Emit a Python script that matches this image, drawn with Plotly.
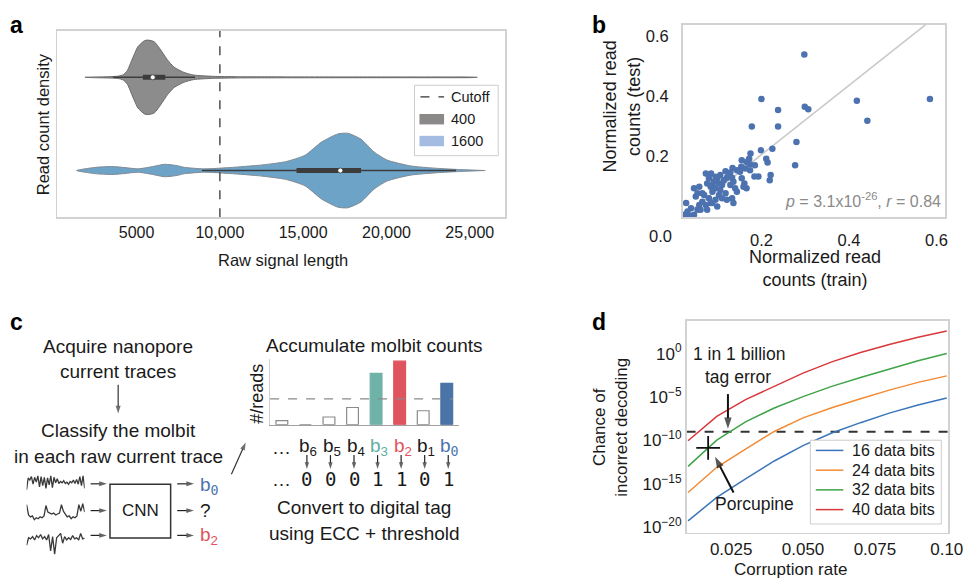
import numpy as np
import plotly.graph_objects as go

W, H = 976, 585
FONT = "Liberation Sans, Arial, Helvetica, sans-serif"
MONO = "DejaVu Sans Mono, monospace"
INK = "#1a1a1a"

# ---------------- Panel a: violin densities ----------------
GROUPS = ["400", "1600"]
A_GRAY_X = [1900, 2600, 3400, 3900, 4200, 4450, 4680, 4880, 5080, 5470, 5670, 6060, 6450,
            6850, 7250, 7840, 8430, 9600, 11000, 14000, 18000, 22000, 25000, 25450]
A_GRAY_D = [0, 0.4, 0.7, 1.2, 2.7, 7, 16, 24, 31, 37, 37.7, 36, 27.7,
            17.7, 10.3, 5, 2.3, 1.0, 0.6, 0.45, 0.4, 0.35, 0.3, 0]
A_BLUE_X = [1400, 2120, 2710, 3600, 4300, 5080, 5960, 6680, 7440, 7850, 9030, 10570, 12540,
            13940, 15120, 16100, 17080, 17670, 18470, 19250, 20030, 21440, 22990, 24390, 25930]
A_BLUE_D = [0, 2.3, 3.5, 4, 3, 1.7, 4, 6.3, 5, 3.3, 1.7, 3, 5.7,
            9, 15.7, 29, 37.3, 38, 32, 19, 10.7, 4.7, 2.3, 1, 0]
A_Q1 = [5380, 14600]
A_MED = [5970, 17230]
A_Q3 = [6720, 18475]
A_WLO = [3600, 8920]
A_WHI = [8510, 24170]
A_POS = [1, 0]
CUTOFF = 10000
A_TICKS = [5000, 10000, 15000, 20000, 25000]
A_TICKTEXT = ["5000", "10,000", "15,000", "20,000", "25,000"]

# ---------------- Panel b: scatter ----------------
B_TRAIN = [0.298, 0.200, 0.238, 0.299, 0.307, 0.178, 0.238, 0.280, 0.277, 0.225, 0.199, 0.175,
           0.172, 0.166, 0.174, 0.185, 0.211, 0.214, 0.193, 0.184, 0.221, 0.219, 0.155, 0.154,
           0.144, 0.134, 0.129, 0.125, 0.118, 0.121, 0.133, 0.136, 0.140, 0.144, 0.155, 0.161,
           0.166, 0.159, 0.106, 0.099, 0.091, 0.103, 0.110, 0.088, 0.084, 0.076, 0.073, 0.085,
           0.080, 0.095, 0.088, 0.103, 0.118, 0.133, 0.136, 0.121, 0.110, 0.095, 0.080, 0.069,
           0.058, 0.046, 0.050, 0.065, 0.058, 0.073, 0.084, 0.054, 0.039, 0.031, 0.028, 0.024,
           0.035, 0.046, 0.043, 0.061, 0.076, 0.099, 0.088, 0.065, 0.054, 0.106, 0.114, 0.129,
           0.151, 0.163, 0.174, 0.095, 0.418, 0.442, 0.585]
B_TEST = [0.540, 0.391, 0.354, 0.365, 0.357, 0.299, 0.299, 0.247, 0.169, 0.224, 0.219, 0.208,
          0.191, 0.180, 0.172, 0.169, 0.191, 0.178, 0.131, 0.131, 0.136, 0.119, 0.186, 0.164,
          0.152, 0.160, 0.145, 0.136, 0.149, 0.127, 0.127, 0.114, 0.092, 0.080, 0.125, 0.108,
          0.092, 0.097, 0.136, 0.125, 0.114, 0.108, 0.103, 0.103, 0.097, 0.108, 0.141, 0.141,
          0.125, 0.092, 0.080, 0.069, 0.075, 0.058, 0.042, 0.053, 0.058, 0.053, 0.058, 0.069,
          0.097, 0.092, 0.064, 0.047, 0.036, 0.036, 0.042, 0.020, 0.025, 0.014, 0.042, 0.003,
          0.000, 0.003, 0.000, 0.020, 0.020, 0.031, 0.042, 0.075, 0.075, 0.086, 0.119, 0.103,
          0.147, 0.158, 0.152, 0.130, 0.385, 0.318, 0.391]
FIT_SLOPE = 1.162
FIT_INTERCEPT = -0.028
B_XRANGE = [0.02, 0.62]
B_YRANGE = [-0.005, 0.64]
B_TICKS = [0.2, 0.4, 0.6]

# ---------------- Panel c: molbit counts ----------------
BIT_LABELS = ["…", "b6", "b5", "b4", "b3", "b2", "b1", "b0"]
BIT_COUNTS = [4, 0, 7.7, 17.3, 51.7, 64, 14, 41.7]
BIT_THRESHOLD = 26
BIT_COLORS = ["white", "white", "white", "white", "#6fb3a8", "#e0545d", "white", "#4a74a8"]
BIT_TEXT_COLORS = [INK, INK, INK, INK, "#5fae9f", "#e0545d", INK, "#4a74b0"]
TRACE_1 = [0.0, 0.85, 0.7, 0.95, 0.4, 0.9, 0.55, 1.0, 0.2, 0.95, 0.3, 0.9, 0.1, 0.85, 0.35, 1.0,
           0.15, 0.9, 0.5, 0.8, 0.45, 0.6, 0.5, 0.65, 0.45, 0.55, 0.4, 0.6, 0.5, 0.7, 0.45, 0.75,
           0.4, 0.95, 0.3, 1.0, 0.1]
TRACE_2 = [0.95, 0.4, 0.3, 0.35, 0.15, 0.25, 0.2, 0.3, 0.25, 0.35, 0.9, 0.55, 0.5, 0.45, 0.5,
           0.4, 0.45, 0.5, 0.95, 0.6, 0.45, 0.3, 0.35, 0.2, 0.3, 0.25, 0.35, 0.95, 0.6, 1.0, 0.55]
TRACE_3 = [0.45, 0.8, 0.75, 0.85, 0.7, 0.9, 0.8, 0.95, 0.75, 0.85, 0.7, 0.95, 0.2, 0.85, 0.05,
           0.8, 0.9, 1.0, 0.55, 0.85, 0.7, 0.8, 0.72, 0.9, 0.75, 0.8, 0.7, 1.0, 0.75, 0.78]

# ---------------- Panel d: decoding error ----------------
CORRUPTION = [0.01, 0.02, 0.03, 0.04, 0.05, 0.06, 0.07, 0.08, 0.09, 0.10]
D_NAMES = ["16 data bits", "24 data bits", "32 data bits", "40 data bits"]
LOG10_P_16 = [-19.25, -16.56, -14.42, -12.36, -10.6, -9.14, -7.95, -6.85, -5.91, -5.11]
LOG10_P_24 = [-15.99, -13.09, -10.99, -8.96, -7.40, -6.24, -5.20, -4.20, -3.31, -2.56]
LOG10_P_32 = [-12.98, -9.96, -7.86, -6.26, -4.95, -3.77, -2.75, -1.75, -0.81, 0.02]
LOG10_P_40 = [-10.03, -7.23, -5.29, -3.80, -2.24, -0.95, 0.12, 1.06, 1.88, 2.61]
D_COLORS = ["#3b75b9", "#f28a35", "#3ea447", "#d8383c"]
THRESH_P = 1e-9
PORCUPINE_RATE = 0.017
PORCUPINE_LOG10_P = -10.85
D_XRANGE = [0.0095, 0.1005]
D_YRANGE = [-20.62, 3.81]
D_XTICKS = [0.025, 0.050, 0.075, 0.100]
D_XTICKTEXT = ["0.025", "0.050", "0.075", "0.10"]
D_YTICKS_EXP = [-20, -15, -10, -5, 0]

fig = go.Figure()


def P(x, y):
    return x / W, 1 - y / H


def text(x, y, s, size=19, color=INK, family=FONT, xanchor="center", angle=0, **kw):
    X, Y = P(x, y)
    fig.add_annotation(x=X, y=Y, xref="paper", yref="paper", text=s, showarrow=False,
                       font=dict(size=size, color=color, family=family), xanchor=xanchor,
                       yanchor="middle", textangle=angle, **kw)


def arrow(xs, ys, xt, yt, color="#333333", width=1.2, head=8):
    # arrow drawn on a full-page overlay axis measured in page pixels
    fig.add_trace(go.Scatter(x=[xs, xt], y=[ys, yt], mode="lines+markers",
                             line=dict(color=color, width=width),
                             marker=dict(symbol=["circle", "arrow"], size=[0, head], color=color,
                                         angleref="previous", line=dict(width=0)),
                             showlegend=False, hoverinfo="skip", xaxis="x6", yaxis="y6"))


def rect(x0, y0, x1, y1, **kw):
    a, b = P(x0, y0)
    c, d = P(x1, y1)
    fig.add_shape(type="rect", xref="paper", yref="paper", x0=a, x1=c, y0=d, y1=b, **kw)


def hline(x0, x1, y, **kw):
    a, b = P(x0, y)
    c, _ = P(x1, y)
    fig.add_shape(type="line", xref="paper", yref="paper", x0=a, x1=c, y0=b, y1=b, **kw)


# ---------------- panel a traces ----------------
HALF = 0.4
for xs, ds, pos, fc, lc in [(A_GRAY_X, A_GRAY_D, A_POS[0], "#8c8c8c", "#6a6a6a"),
                            (A_BLUE_X, A_BLUE_D, A_POS[1], "#6ea3c8", "#7f8a93")]:
    m = max(ds)
    up = [pos + HALF * d / m for d in ds]
    lo = [pos - HALF * d / m for d in ds]
    fig.add_trace(go.Scatter(x=xs + xs[::-1], y=up + lo[::-1], fill="toself", fillcolor=fc,
                             mode="lines", line=dict(color=lc, width=1, shape="spline", smoothing=0.6),
                             showlegend=False, hoverinfo="skip", xaxis="x", yaxis="y"))
for i in range(2):
    p = A_POS[i]
    fig.add_trace(go.Scatter(x=[A_WLO[i], A_WHI[i]], y=[p, p], mode="lines",
                             line=dict(color="#3c3c3c", width=1.5), showlegend=False, xaxis="x", yaxis="y"))
    fig.add_trace(go.Scatter(x=[A_Q1[i], A_Q3[i]], y=[p, p], mode="lines",
                             line=dict(color="#3c3c3c", width=5), showlegend=False, xaxis="x", yaxis="y"))
    fig.add_trace(go.Scatter(x=[A_MED[i]], y=[p], mode="markers",
                             marker=dict(color="white", size=5, line=dict(color="#3c3c3c", width=0.8)),
                             showlegend=False, xaxis="x", yaxis="y"))
fig.add_trace(go.Scatter(x=[CUTOFF, CUTOFF], y=[-0.5, 1.5], mode="lines", name="Cutoff",
                         line=dict(color="#333333", width=1.3, dash="dash"), xaxis="x", yaxis="y",
                         showlegend=False))

# ---------------- panel b traces ----------------
fig.add_trace(go.Scatter(x=B_XRANGE, y=[FIT_INTERCEPT + FIT_SLOPE * v for v in B_XRANGE], mode="lines",
                         line=dict(color="#c9c9c9", width=1.6), showlegend=False, xaxis="x2", yaxis="y2"))
fig.add_trace(go.Scatter(x=B_TRAIN, y=B_TEST, mode="markers",
                         marker=dict(color="#4c72b0", size=6.5), showlegend=False, xaxis="x2", yaxis="y2"))

# ---------------- panel c traces ----------------
fig.add_trace(go.Bar(x=BIT_LABELS, y=BIT_COUNTS, width=0.5,
                     marker=dict(color=BIT_COLORS,
                                 line=dict(color=["#8a8a8a" if c == "white" else c for c in BIT_COLORS],
                                           width=1.2)),
                     showlegend=False, xaxis="x3", yaxis="y3"))
ROW_BASE = [-16, -49, -82]
ROW_AMP = [14, 19, 22]
for tr, base, amp in zip([TRACE_1, TRACE_2, TRACE_3], ROW_BASE, ROW_AMP):
    fig.add_trace(go.Scatter(x=np.linspace(0, 1, len(tr)), y=[base + amp * v for v in tr], mode="lines",
                             line=dict(color="#3a3a3a", width=1.3), showlegend=False,
                             xaxis="x5", yaxis="y5", hoverinfo="skip"))

# ---------------- panel d traces ----------------
fig.add_trace(go.Scatter(x=D_XRANGE, y=[THRESH_P, THRESH_P], mode="lines",
                         line=dict(color="#333333", width=2, dash="dash"), showlegend=False,
                         xaxis="x4", yaxis="y4"))
for name, vals, col in zip(D_NAMES, [LOG10_P_16, LOG10_P_24, LOG10_P_32, LOG10_P_40], D_COLORS):
    fig.add_trace(go.Scatter(x=CORRUPTION, y=[10 ** v for v in vals], mode="lines", name=name,
                             line=dict(color=col, width=1.5), xaxis="x4", yaxis="y4", showlegend=False))
fig.add_trace(go.Scatter(x=[PORCUPINE_RATE], y=[10 ** PORCUPINE_LOG10_P], mode="markers",
                         marker=dict(symbol="cross-thin", size=17, line=dict(color="#111111", width=1.8)),
                         showlegend=False, xaxis="x4", yaxis="y4"))

# ---------------- axes ----------------
FRAME = dict(showline=True, mirror=True, linecolor="#d2d2d2", linewidth=1.6, showgrid=False,
             zeroline=False)
TICKF = dict(size=16, color=INK, family=FONT)
BAR_X0, BAR_X1 = 274.3, 465.7
fig.update_layout(
    xaxis=dict(domain=[58 / W, 513 / W], range=[230, 27120], tickvals=A_TICKS, ticktext=A_TICKTEXT,
               tickfont=TICKF, anchor="y", ticks="", **FRAME),
    yaxis=dict(domain=[1 - 219 / H, 1 - 31 / H], range=[-0.5, 1.5], showticklabels=False, anchor="x",
               ticks="", **FRAME),
    xaxis2=dict(domain=[693.3 / W, 960 / W], range=B_XRANGE, tickvals=B_TICKS,
                ticktext=["0.2", "0.4", "0.6"], tickfont=dict(size=16.5, color=INK, family=FONT),
                ticks="outside", ticklen=7, tickcolor="rgba(0,0,0,0)", anchor="y2", **FRAME),
    yaxis2=dict(domain=[1 - 219 / H, 1 - 25 / H], range=B_YRANGE, tickvals=B_TICKS,
                ticktext=["0.2", "0.4", "0.6"], tickfont=dict(size=16.5, color=INK, family=FONT),
                ticks="outside", ticklen=9, tickcolor="rgba(0,0,0,0)", anchor="x2", **FRAME),
    xaxis3=dict(domain=[BAR_X0 / W, BAR_X1 / W], range=[-0.5, 7.5], type="category", showticklabels=False,
                showline=True, linecolor="#a0a0a0", linewidth=1.5, showgrid=False, zeroline=False,
                ticks="", anchor="y3"),
    yaxis3=dict(domain=[1 - 428.3 / H, 1 - 361.7 / H], range=[0, 66.6], showticklabels=False,
                showline=True, linecolor="#d0d0d0", linewidth=1.5, showgrid=False, zeroline=False,
                ticks="", anchor="x3"),
    xaxis4=dict(domain=[697.3 / W, 963 / W], range=D_XRANGE, tickvals=D_XTICKS,
                ticktext=D_XTICKTEXT, tickfont=dict(size=17, color=INK, family=FONT),
                ticklabeloverflow="allow", ticks="", anchor="y4", **FRAME),
    yaxis4=dict(domain=[1 - 537.3 / H, 1 - 323.3 / H], type="log", range=D_YRANGE,
                tickvals=[10.0 ** e for e in D_YTICKS_EXP],
                ticktext=["10<sup>\u2212%d</sup>" % (-e) if e < 0 else "10<sup>0</sup>" for e in D_YTICKS_EXP],
                tickfont=dict(size=17, color=INK, family=FONT), ticks="", anchor="x4", **FRAME),
    xaxis5=dict(domain=[27 / W, 86 / W], range=[0, 1], visible=False, anchor="y5"),
    yaxis5=dict(domain=[1 - 562 / H, 1 - 478 / H], range=[-84, 0], visible=False, anchor="x5"),
    xaxis6=dict(domain=[0, 1], range=[0, W], visible=False, anchor="y6", fixedrange=True),
    yaxis6=dict(domain=[0, 1], range=[H, 0], visible=False, anchor="x6", fixedrange=True),
)

# threshold in bar panel
fig.add_shape(type="line", xref="x3 domain", yref="y3", x0=0, x1=0.97, y0=BIT_THRESHOLD, y1=BIT_THRESHOLD,
              line=dict(color="#8a8a8a", width=1.2, dash="dash"))
# CNN box
rect(111.7, 488.3, 173.3, 542.7, line=dict(color="#333333", width=1.5))

# ---------------- panel letters ----------------
for lx, ly, s in [(17, 25, "a"), (608, 25, "b"), (17, 325, "c"), (608, 325, "d")]:
    text(lx, ly, "<b>%s</b>" % s, size=23, color="#000000")

# ---------------- panel a titles + legend ----------------
text(287, 262, "Raw signal length", size=16.5)
text(44, 125, "Read count density", size=16.5, angle=-90)
rect(421, 86, 506, 157, line=dict(color="#cccccc", width=1), fillcolor="white")
hline(427, 451, 97.7, line=dict(color="#333333", width=1.3, dash="dash"))
rect(426, 115, 451, 125.5, line=dict(width=0), fillcolor="#8b8888")
rect(426, 137, 451, 147.5, line=dict(width=0), fillcolor="#a4bbe2")
text(456.5, 97.7, "Cutoff", size=14.5, xanchor="left")
text(456.5, 120.3, GROUPS[0], size=14.5, xanchor="left")
text(456.5, 142.2, GROUPS[1], size=14.5, xanchor="left")

# ---------------- panel b titles ----------------
text(828, 271, "Normalized read<br>counts (train)", size=18)
text(631, 107, "Normalized read<br>counts (test)", size=18, angle=-90)
text(670.7, 238, "0.0", size=16.5)
text(958, 202, "<i>p</i> = 3.1x10<sup>-26</sup>, <i>r</i> = 0.84", size=16, color="#8a8a8a",
     xanchor="right")

# ---------------- panel d titles / annotations / legend ----------------
text(803, 574, "Corruption rate", size=17)
text(620, 431, "Chance of<br>incorrect decoding", size=17, angle=-90)
text(751, 357, "1 in 1 billion", size=17.5)
text(750, 380, "tag error", size=17.5)
arrow(739.3, 397.5, 739.3, 432.5, color="#111111", width=2, head=12)
text(766.7, 508.3, "Porcupine", size=17.5)
arrow(745, 496.7, 726.2, 460.7, color="#111111", width=2, head=12)
rect(823, 444, 956, 528.5, line=dict(color="#cccccc", width=1), fillcolor="white")
for k, (name, col) in enumerate(zip(D_NAMES, D_COLORS)):
    ly = 454.3 + k * 19.9
    hline(828.5, 856.5, ly, line=dict(color=col, width=1.5))
    text(863, ly, name, size=16, xanchor="left")

# ---------------- panel c text + arrows ----------------
text(120, 349, "Acquire nanopore", size=19)
text(120, 375, "current traces", size=19)
arrow(120, 388, 120, 417)
text(120, 434, "Classify the molbit", size=19)
text(120, 460, "in each raw current trace", size=19)
for ry in [488, 515, 540]:
    arrow(92, ry, 108.5, ry, color="#222222", width=1.2)
    arrow(180, ry, 197, ry, color="#222222", width=1.2)
text(142.5, 515, "CNN", size=17)
ZERO = "<span style='font-family:DejaVu Sans Mono'>0</span>"
text(201, 490, "b<sub>%s</sub>" % ZERO, size=19, color=BIT_TEXT_COLORS[7], xanchor="left")
text(201, 515, "?", size=19, xanchor="left")
text(201, 541, "b<sub>2</sub>", size=19, color=BIT_TEXT_COLORS[5], xanchor="left")
arrow(235, 478.3, 249.5, 446.3)
text(380, 348.3, "Accumulate molbit counts", size=19)
text(261.5, 396.7, "#/reads", size=18, angle=-90)
text(370, 512.3, "Convert to digital tag", size=19)
text(370, 538.3, "using ECC + threshold", size=19)

_, y_lab = P(0, 451)
_, y_dig = P(0, 483.5)
step = (BAR_X1 - BAR_X0) / len(BIT_LABELS)
for i, (lab, cnt, col) in enumerate(zip(BIT_LABELS, BIT_COUNTS, BIT_TEXT_COLORS)):
    if lab == "…":
        for yy in (y_lab, y_dig):
            fig.add_annotation(x=lab, y=yy, xref="x3", yref="paper", text="…", showarrow=False,
                               font=dict(size=19, color=INK, family=FONT), yanchor="middle")
        continue
    sub = ZERO if lab[1:] == "0" else lab[1:]
    fig.add_annotation(x=lab, y=y_lab, xref="x3", yref="paper", text="b<sub>%s</sub>" % sub,
                       showarrow=False, xshift=3, font=dict(size=19, color=col, family=FONT),
                       yanchor="middle")
    cx = BAR_X0 + (i + 0.5) * step + 1.5
    arrow(cx, 459, cx, 473, color="#222222", width=1.2, head=7)
    fig.add_annotation(x=lab, y=y_dig, xref="x3", yref="paper", text=str(int(cnt > BIT_THRESHOLD)),
                       showarrow=False, xshift=1.5, font=dict(size=19, color=INK, family=MONO),
                       yanchor="middle")

fig.update_layout(
    width=W, height=H, margin=dict(l=0, r=0, t=0, b=0),
    paper_bgcolor="white", plot_bgcolor="rgba(0,0,0,0)",
    font=dict(family=FONT, color=INK),
    showlegend=False,
    bargap=0,
)

# remove the browser's default 8px body margin so the figure sits at the page origin
fig.write_html("out.html", config={"displayModeBar": False, "staticPlot": True},
               post_script="document.body.style.margin='0';document.body.style.overflow='hidden';")
